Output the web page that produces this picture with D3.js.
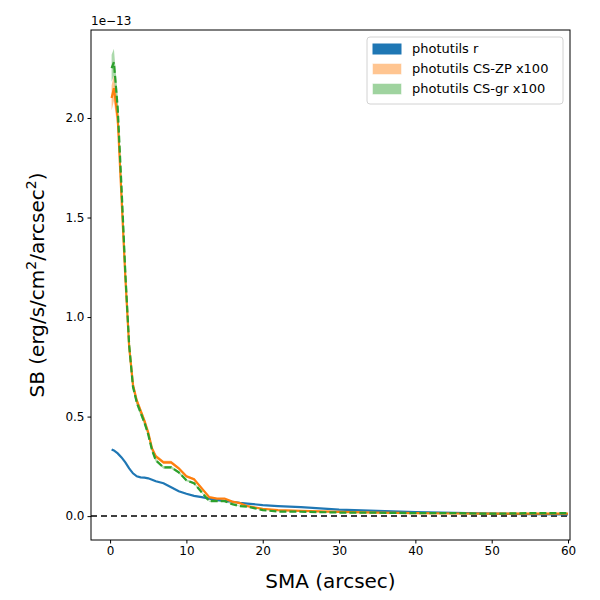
<!DOCTYPE html>
<html><head><meta charset="utf-8">
<script src="https://cdn.jsdelivr.net/npm/d3@7"></script>
<style>body{margin:0;background:#fff}text{font-family:"DejaVu Sans",sans-serif}</style>
</head><body><svg id="c" width="600" height="600"></svg>
<script>
const sma = [0.2,0.5,1,1.5,2,2.5,3,3.5,4,4.5,5,5.5,6,7,8,9,10,11,12,13,14,15,16,17,18,20,22,25,30,35,40,45,50,55,60];
const blue = [0.335,0.33,0.315,0.295,0.27,0.24,0.215,0.2,0.195,0.193,0.19,0.183,0.175,0.165,0.145,0.125,0.112,0.102,0.095,0.088,0.082,0.077,0.072,0.067,0.063,0.055,0.05,0.045,0.033,0.026,0.02,0.016,0.012,0.01,0.008];
const orange = [2.1,2.15,2.0,1.6,1.2,0.85,0.66,0.58,0.53,0.48,0.42,0.34,0.30,0.27,0.27,0.24,0.20,0.185,0.14,0.095,0.088,0.088,0.073,0.065,0.05,0.037,0.03,0.026,0.021,0.018,0.015,0.013,0.012,0.012,0.012];
const green = [2.25,2.28,2.05,1.65,1.22,0.86,0.65,0.57,0.52,0.47,0.41,0.33,0.28,0.245,0.245,0.22,0.18,0.165,0.12,0.075,0.075,0.075,0.06,0.05,0.048,0.03,0.023,0.022,0.018,0.017,0.015,0.015,0.012,0.015,0.015];
const xTicks = [0,10,20,30,40,50,60];
const yTicks = [0,0.5,1.0,1.5,2.0];
const legendLabels = ["photutils r","photutils CS-ZP x100","photutils CS-gr x100"];
const colors = ["#1f77b4","#ff7f0e","#2ca02c"];

const L=91,R=570,T=30,B=540;
const x=d3.scaleLinear().domain([-2.5,60.26]).range([L,R]);
const y=d3.scaleLinear().domain([-0.12,2.442]).range([B,T]);
const svg=d3.select("#c");
const g=svg.append("g");
g.append("defs").append("clipPath").attr("id","cp").append("rect").attr("x",L).attr("y",T).attr("width",R-L).attr("height",B-T);
const plot=g.append("g").attr("clip-path","url(#cp)");
const line=vals=>d3.line().x((d,i)=>x(sma[i])).y(d=>y(d))(vals);
const band=(vals,f)=>d3.area().x((d,i)=>x(sma[i])).y0(d=>y(d*(1-f))).y1(d=>y(d*(1+f)))(vals);
plot.append("path").attr("d",band(orange,0.03)).attr("fill",colors[1]).attr("opacity",0.45);
plot.append("path").attr("d",band(green,0.03)).attr("fill",colors[2]).attr("opacity",0.4);
plot.append("line").attr("x1",L).attr("x2",R).attr("y1",y(0)).attr("y2",y(0)).attr("stroke","#000").attr("stroke-width",1.5).attr("stroke-dasharray","6,4");
plot.append("path").attr("d",line(blue)).attr("fill","none").attr("stroke",colors[0]).attr("stroke-width",2.2);
plot.append("path").attr("d",line(orange)).attr("fill","none").attr("stroke",colors[1]).attr("stroke-width",2.2);
plot.append("path").attr("d",line(green)).attr("fill","none").attr("stroke",colors[2]).attr("stroke-width",2.2).attr("stroke-dasharray","7,3");
g.append("g").attr("transform",`translate(0,${B})`).call(d3.axisBottom(x).tickValues(xTicks).tickSize(3.5).tickPadding(3)).call(a=>{a.select(".domain").remove();a.selectAll("text").attr("font-size",12).attr("fill","#000");});
g.append("g").attr("transform",`translate(${L},0)`).call(d3.axisLeft(y).tickValues(yTicks).tickFormat(d3.format(".1f")).tickSize(3.5).tickPadding(3)).call(a=>{a.select(".domain").remove();a.selectAll("text").attr("font-size",12).attr("fill","#000");});
g.append("rect").attr("x",L).attr("y",T).attr("width",R-L).attr("height",B-T).attr("fill","none").attr("stroke","#000").attr("stroke-width",1);
g.append("text").attr("x",L).attr("y",T-5).attr("font-size",12).text("1e−13");
g.append("text").attr("x",(L+R)/2).attr("y",588).attr("text-anchor","middle").attr("font-size",20).text("SMA (arcsec)");
const yl=g.append("text").attr("transform",`translate(44,${(T+B)/2}) rotate(-90)`).attr("text-anchor","middle").attr("font-size",20);
yl.append("tspan").text("SB (erg/s/cm");
yl.append("tspan").attr("dy",-8).attr("font-size",14).text("2");
yl.append("tspan").attr("dy",8).text("/arcsec");
yl.append("tspan").attr("dy",-8).attr("font-size",14).text("2");
yl.append("tspan").attr("dy",8).text(")");
const lg=g.append("g");
lg.append("rect").attr("x",367).attr("y",37).attr("width",196).attr("height",67).attr("rx",3).attr("fill","#fff").attr("stroke","#ccc").attr("opacity",0.85);
legendLabels.forEach((t,i)=>{
  const yy=48+i*20;
  lg.append("rect").attr("x",373).attr("y",yy-4).attr("width",28).attr("height",10).attr("fill",colors[i]).attr("opacity",i?0.45:1).attr("stroke",colors[i]).attr("stroke-opacity",i?0.5:1);
  lg.append("text").attr("x",412).attr("y",yy+5).attr("font-size",13).text(t);
});
</script></body></html>
